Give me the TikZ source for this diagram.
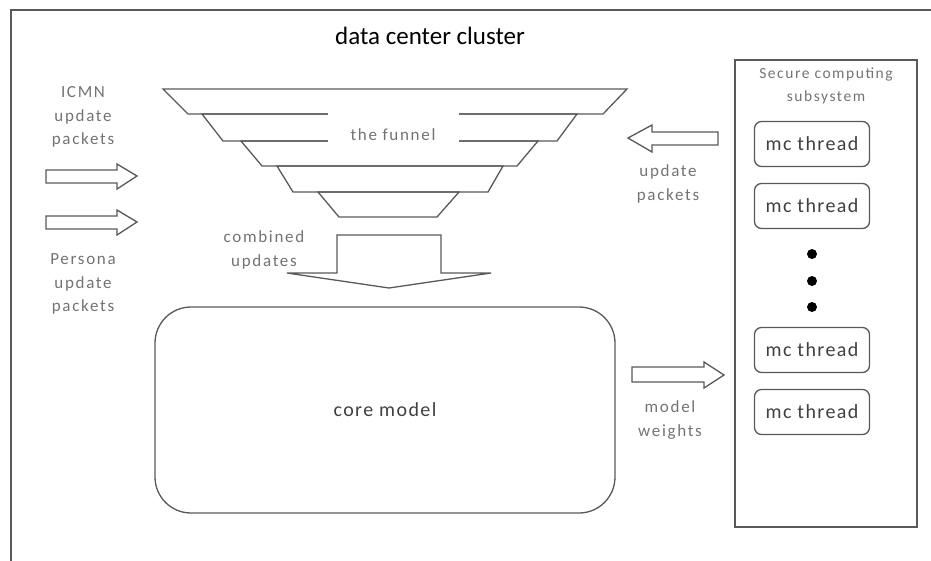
\documentclass[tikz,border=0pt]{standalone}
\usepackage{fontspec}
\setmainfont{Carlito}
\newfontfamily\spaced[LetterSpace=10]{Carlito}
\newfontfamily\boxfont[LetterSpace=7]{Carlito}
\begin{document}
\begin{tikzpicture}[x=1pt,y=-1pt,
  edge/.style={draw=black!65,line width=1.3pt,line join=miter},
  lbl/.style={text=black!55,font=\spaced\fontsize{17}{23.5}\selectfont,align=center},
  thread/.style={draw=black!65,line width=1.3pt,rounded corners=7pt,fill=white,
    minimum width=115pt,minimum height=45pt,text=black!75,font=\boxfont\fontsize{20}{22}\selectfont},
  blockarrow/.style={draw=black!65,line width=1.3pt,fill=white,line join=miter},
  dot/.style={circle,fill=black,inner sep=0pt,minimum size=10pt}]
\useasboundingbox (0,0) rectangle (931,560);

% outer frame, open to the right and below
\draw[edge] (11,570) -- (11,10) -- (940,10);
\node[font=\fontsize{25}{27}\selectfont] (title) at (430,36) {data center cluster};

% the funnel: five stacked trapezoids
\draw[edge] (163,89) -- (627,89) -- (603,114) -- (188,114) -- cycle;
\draw[edge] (202,114) -- (577,114) -- (557,141) -- (223,141) -- cycle;
\draw[edge] (241,141) -- (538,141) -- (517,166) -- (262,166) -- cycle;
\draw[edge] (277,166) -- (503,166) -- (488,192) -- (293,192) -- cycle;
\draw[edge] (318,192) -- (459,192) -- (437,217) -- (339,217) -- cycle;
\fill[white] (328,108) rectangle (459,147);
\node[lbl] (funnel) at (393,135) {the funnel};

% combined updates arrow into the core model
\draw[blockarrow] (337,235) -- (441,235) -- (441,273) -- (491,273) -- (389,288)
  -- (287,273) -- (337,273) -- cycle;
\node[lbl] (comb) at (264,250) {combined\\updates};

% core model
\node[draw=black!65,line width=1.3pt,rounded corners=36pt,minimum width=460pt,
  minimum height=206pt,text=black!75,font=\boxfont\fontsize{20}{22}\selectfont]
  (core) at (385,410) {core model};

% incoming packet arrows on the left
\node[lbl] (icmn) at (83,117) {ICMN\\update\\packets};
\draw[blockarrow] (46,170) -- (117,170) -- (117,164) -- (137,176) -- (117,189)
  -- (117,183) -- (46,183) -- cycle;
\draw[blockarrow] (46,216) -- (117,216) -- (117,210) -- (137,222) -- (117,235)
  -- (117,229) -- (46,229) -- cycle;
\node[lbl] (persona) at (83,284) {Persona\\update\\packets};

% secure computing subsystem
\draw[edge] (735,60) rectangle (917,527);
\node[lbl,font=\spaced\fontsize{15.5}{23}\selectfont] (secure) at (826,86) {Secure computing\\subsystem};
\node[thread] (t1) at (812,144) {mc thread};
\node[thread] (t2) at (812,206) {mc thread};
\node[dot] (d1) at (812,254) {};
\node[dot] (d2) at (812,281) {};
\node[dot] (d3) at (812,307) {};
\node[thread] (t3) at (812,350) {mc thread};
\node[thread] (t4) at (812,412) {mc thread};

% update packets back into the funnel
\draw[blockarrow] (718,132) -- (652,132) -- (652,125) -- (628,138) -- (652,152)
  -- (652,145) -- (718,145) -- cycle;
\node[lbl] (upd) at (668,184) {update\\packets};

% model weights out to the threads
\draw[blockarrow] (632,367) -- (704,367) -- (704,362) -- (724,375) -- (704,388)
  -- (704,382) -- (632,382) -- cycle;
\node[lbl] (mw) at (670,420) {model\\weights};
\end{tikzpicture}
\end{document}
